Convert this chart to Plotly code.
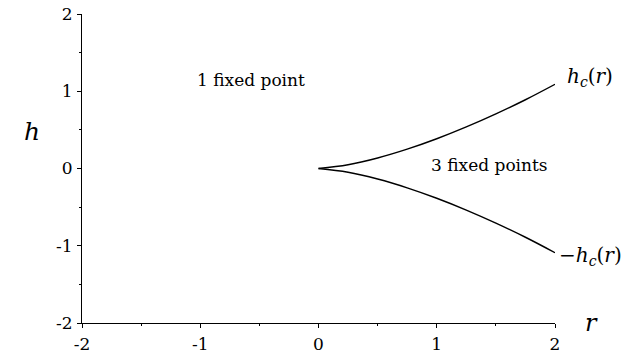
import plotly.graph_objects as go

r_vals = [0, 0.25, 0.5, 0.75, 1.0, 1.25, 1.5, 1.75, 2.0]
h_upper = [0, 0.048, 0.136, 0.25, 0.385, 0.538, 0.707, 0.89, 1.09]
h_lower = [0, -0.048, -0.136, -0.25, -0.385, -0.538, -0.707, -0.89, -1.09]
tick_vals = [-2, -1, 0, 1, 2]

FONT = "DejaVu Serif"

fig = go.Figure()
fig.add_trace(go.Scatter(x=r_vals, y=h_upper, mode="lines",
                         line=dict(color="black", width=1.4, shape="spline"), showlegend=False))
fig.add_trace(go.Scatter(x=r_vals, y=h_lower, mode="lines",
                         line=dict(color="black", width=1.4, shape="spline"), showlegend=False))

axis_common = dict(range=[-2, 2], tickvals=tick_vals, ticktext=[str(v) for v in tick_vals],
                   showgrid=False, zeroline=False, showline=True, linecolor="black", linewidth=1,
                   ticks="outside", ticklen=4, tickwidth=1, tickcolor="black",
                   tickfont=dict(family=FONT, size=17, color="black"),
                   minor=dict(ticks="outside", ticklen=2, tickwidth=1, tickcolor="black", dtick=0.5))
fig.update_xaxes(**axis_common, ticklabelstandoff=2)
fig.update_yaxes(**axis_common, ticklabelstandoff=1)

PX0, PX1 = 82, 555
PY0, PY1 = 14, 323
fig.update_layout(
    width=632, height=363,
    margin=dict(l=PX0, r=632 - PX1, t=PY0, b=363 - PY1, autoexpand=False),
    plot_bgcolor="white", paper_bgcolor="white",
    font=dict(family=FONT, color="black"),
)

ann = [
    dict(x=251, y=80, text="1 fixed point", size=17),
    dict(x=489, y=165, text="3 fixed points", size=17),
    dict(x=590, y=77, text="<i>h</i><sub><i>c</i></sub>(<i>r</i>)", size=20),
    dict(x=590, y=256, text="\u2212<i>h</i><sub><i>c</i></sub>(<i>r</i>)", size=20),
    dict(x=32, y=131, text="<i>h</i>", size=25),
    dict(x=591, y=323, text="<i>r</i>", size=24),
]
for a in ann:
    fig.add_annotation(x=(a["x"] - PX0) / (PX1 - PX0), y=(PY1 - a["y"]) / (PY1 - PY0),
                       xref="paper", yref="paper",
                       text=a["text"], showarrow=False, xanchor="center", yanchor="middle",
                       font=dict(family=FONT, size=a["size"], color="black"))

fig.write_html("out.html", config={"displayModeBar": False},
               post_script="document.body.style.margin='0px';")
